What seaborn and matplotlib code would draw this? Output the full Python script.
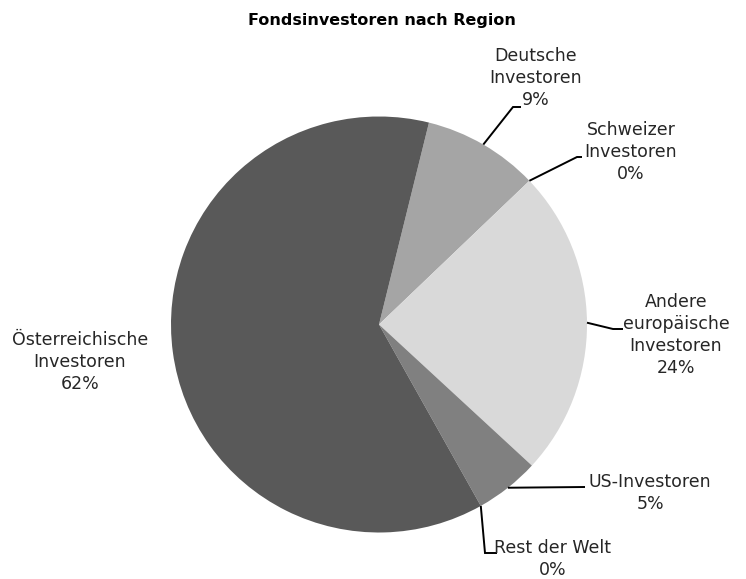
import numpy as np
import matplotlib
matplotlib.use("Agg")
import matplotlib.pyplot as plt
import seaborn as sns

# Shares of fund investors by region (percent)
regions = [
    "Deutsche\nInvestoren",
    "Schweizer\nInvestoren",
    "Andere\neuropäische\nInvestoren",
    "US-Investoren",
    "Rest der Welt",
    "Österreichische\nInvestoren",
]
shares = [9, 0, 24, 5, 0, 62]
colors = ["#a5a5a5", "#bfbfbf", "#d9d9d9", "#808080", "#404040", "#595959"]
title = "Fondsinvestoren nach Region"

sns.set_theme(style="white")
plt.rcParams["font.family"] = ["DejaVu Sans"]

W, H = 746, 579
fig = plt.figure(figsize=(W / 100, H / 100), dpi=100)

# pie geometry in pixels
cx, cy, R = 379, 324.5, 208
ax = fig.add_axes([(cx - R) / W, (H - cy - R) / H, 2 * R / W, 2 * R / H])

wedges, _ = ax.pie(
    shares,
    colors=colors,
    startangle=76.1,
    counterclock=False,
    radius=1,
    wedgeprops=dict(linewidth=0),
)
ax.set_xlim(-1, 1)
ax.set_ylim(-1, 1)
ax.set_aspect("equal")
ax.axis("off")


def px(x, y):
    """Pixel position -> data coordinates of the pie axes."""
    return (x - cx) / R, (cy - y) / R


def edge_point(w):
    ang = np.deg2rad((w.theta1 + w.theta2) / 2)
    return np.cos(ang), np.sin(ang)


# label text: centre position (px) and leader-line route (px) after the edge point
layout = {
    0: dict(pos=(536, 78), route=[(513, 107), (521, 107)]),
    1: dict(pos=(631, 152), route=[(577, 157), (582, 157)]),
    2: dict(pos=(676, 335), route=[(613, 329), (623, 329)]),
    3: dict(pos=(650, 493), route=[(585, 487)]),
    4: dict(pos=(553, 559), route=[(485, 553), (497, 553)]),
    5: dict(pos=(80, 362), route=None),
}

text_color = "#262626"
for i, (name, val, w) in enumerate(zip(regions, shares, wedges)):
    spec = layout[i]
    label = f"{name}\n{val:.0f}%"
    tx, ty = px(*spec["pos"])
    ax.text(tx, ty, label, ha="center", va="center", fontsize=12.5,
            color=text_color, linespacing=1.3, clip_on=False)
    if spec["route"]:
        ex, ey = edge_point(w)
        pts = [(ex, ey)] + [px(*p) for p in spec["route"]]
        xs, ys = zip(*pts)
        ax.plot(xs, ys, color="black", lw=1.4, clip_on=False,
                solid_capstyle="butt", solid_joinstyle="miter")

fig.text(382 / W, 1 - 20 / H, title, ha="center", va="center",
         fontsize=11.5, fontweight="bold", color="black")

fig.savefig("out.png", dpi=100, facecolor="white")
